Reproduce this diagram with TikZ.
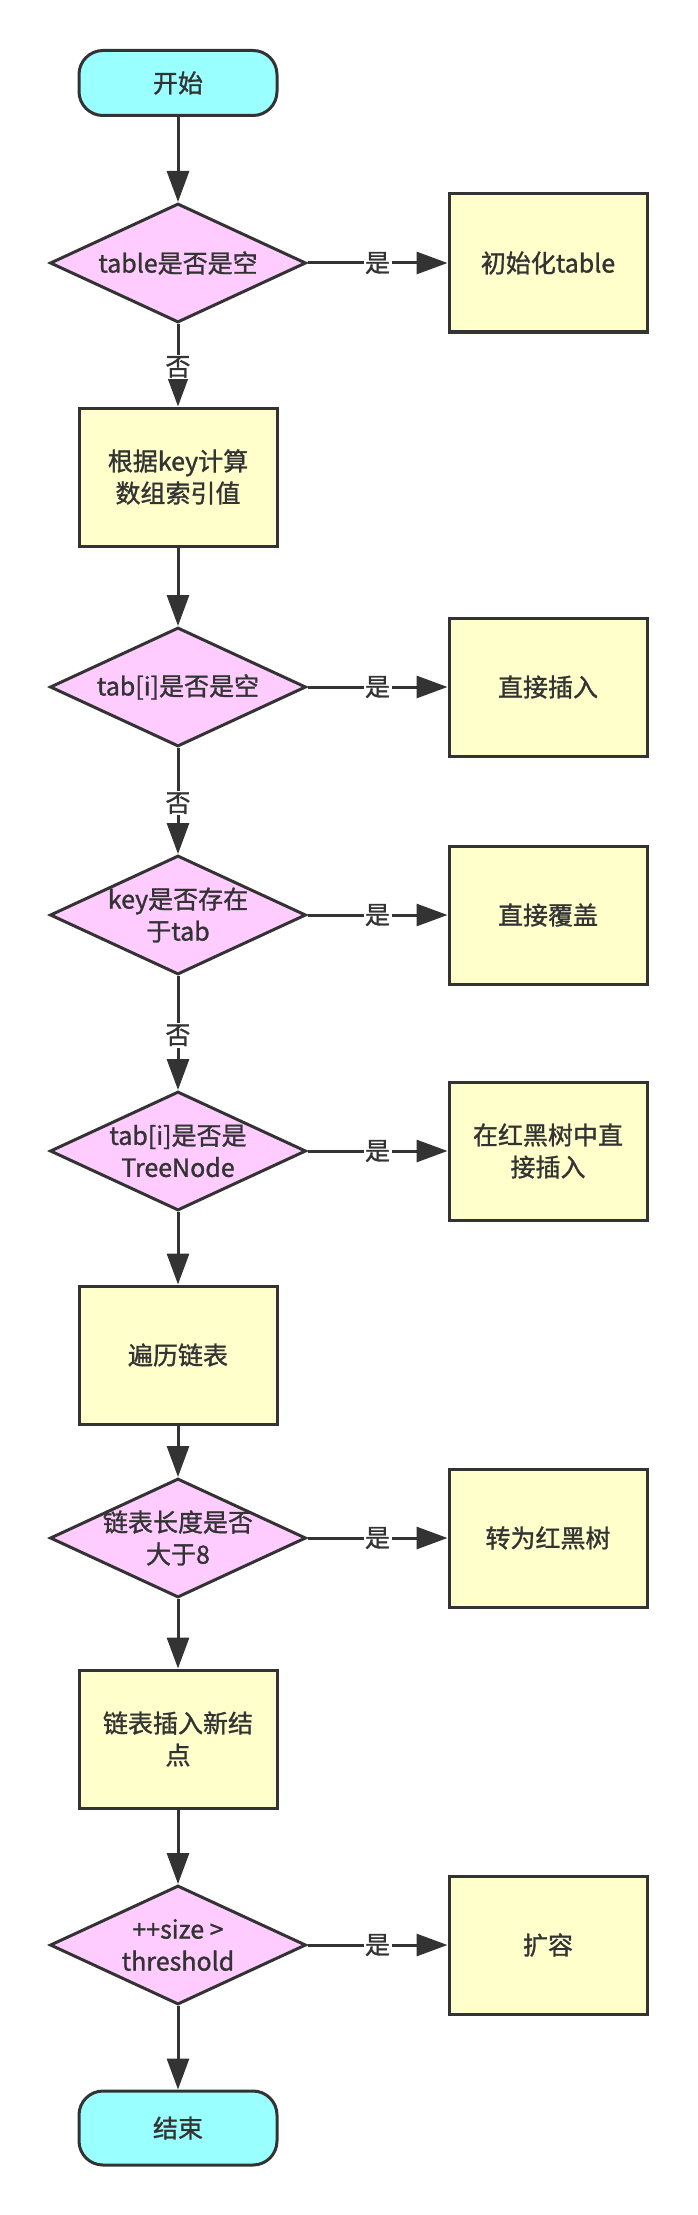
\documentclass[tikz,border=0pt]{standalone}
\usepackage{fontspec}
\setmainfont{Noto Sans CJK SC}[RawFeature={embolden=1.2}]
\usetikzlibrary{arrows.meta,shapes.geometric}
\definecolor{ln}{HTML}{333333}
\definecolor{termc}{HTML}{99FFFF}
\definecolor{procc}{HTML}{FFFFCC}
\definecolor{decc}{HTML}{FFCCFF}
\begin{document}
\begin{tikzpicture}[x=1pt,y=-1pt,
  every node/.style={font=\fontsize{25}{32}\selectfont, text=ln},
  term/.style={draw=ln, line width=3pt, fill=termc, rounded corners=24pt, minimum width=198pt, inner sep=0},
  proc/.style={draw=ln, line width=3pt, fill=procc, minimum width=198pt, minimum height=138pt, align=center, inner sep=0},
  dec/.style={diamond, draw=ln, line width=3pt, fill=decc, minimum width=256pt, minimum height=119pt, inner sep=0},
  dtext/.style={align=center},
  flow/.style={draw=ln, line width=3pt, -{Triangle[length=31pt,width=22pt]}},
  lab/.style={fill=white, inner sep=1.5pt}
]
\fill[white] (0,0) rectangle (698,2215);
\path[use as bounding box] (0,0) rectangle (698,2215);

\node[term, minimum height=65pt] (start) at (178,83) {开始};
\node[dec, label={[dtext]center:{table是否是空}}] (d1) at (178,263) {};
\node[proc] (r1) at (548,263) {初始化table};
\node[proc] (b2) at (178,477) {根据key计算\\数组索引值};
\node[dec, label={[dtext]center:{tab[i]是否是空}}] (d2) at (178,687) {};
\node[proc] (r2) at (548,687) {直接插入};
\node[dec, label={[dtext]center:{key是否存在\\于tab}}] (d3) at (178,915) {};
\node[proc] (r3) at (548,915) {直接覆盖};
\node[dec, label={[dtext]center:{tab[i]是否是\\TreeNode}}] (d4) at (178,1151) {};
\node[proc] (r4) at (548,1151) {在红黑树中直\\接插入};
\node[proc] (b5) at (178,1355) {遍历链表};
\node[dec, label={[dtext]center:{链表长度是否\\大于8}}] (d5) at (178,1538) {};
\node[proc] (r5) at (548,1538) {转为红黑树};
\node[proc] (b6) at (178,1739) {链表插入新结\\点};
\node[dec, label={[dtext]center:{++size >\\threshold}}] (d6) at (178,1945) {};
\node[proc] (r6) at (548,1945) {扩容};
\node[term, minimum height=74pt] (end) at (178,2128) {结束};

\draw[flow] (start) -- (d1);
\draw[flow] (d1) -- node[lab] (y1) {是} (r1);
\draw[flow] (d1) -- node[lab, pos=0.52] (n1) {否} (b2);
\draw[flow] (b2) -- (d2);
\draw[flow] (d2) -- node[lab] (y2) {是} (r2);
\draw[flow] (d2) -- node[lab, pos=0.52] (n2) {否} (d3);
\draw[flow] (d3) -- node[lab] (y3) {是} (r3);
\draw[flow] (d3) -- node[lab, pos=0.52] (n3) {否} (d4);
\draw[flow] (d4) -- node[lab] (y4) {是} (r4);
\draw[flow] (d4) -- (b5);
\draw[flow] (b5) -- (d5);
\draw[flow] (d5) -- node[lab] (y5) {是} (r5);
\draw[flow] (d5) -- (b6);
\draw[flow] (b6) -- (d6);
\draw[flow] (d6) -- node[lab] (y6) {是} (r6);
\draw[flow] (d6) -- (end);
\end{tikzpicture}
\end{document}
